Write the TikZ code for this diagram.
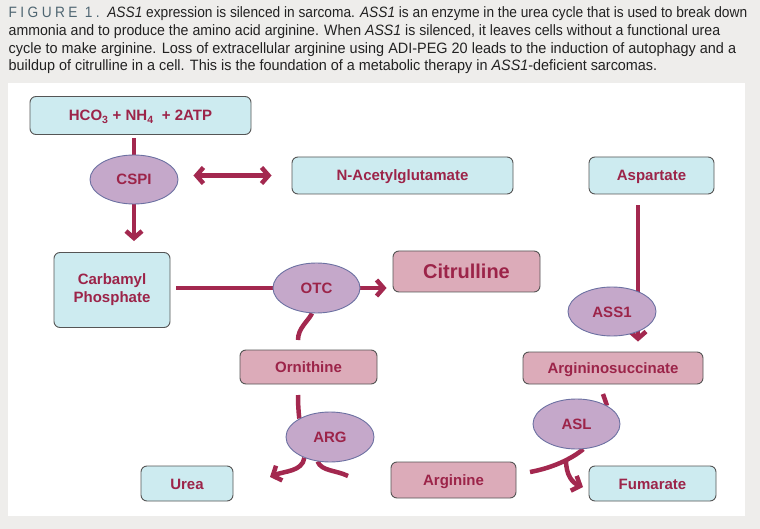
\documentclass[tikz,border=0pt]{standalone}
\usepackage{fontspec}
\usepackage{graphicx}
\setmainfont{Liberation Sans}
\newfontfamily\capfont{Liberation Sans}[FakeStretch=0.8]
\usetikzlibrary{shapes.geometric,arrows.meta}
\pgfdeclarelayer{back}
\pgfdeclarelayer{bg}
\pgfsetlayers{back,bg,main}
\definecolor{bgray}{HTML}{EEEDEB}
\definecolor{crim}{HTML}{A3284F}
\definecolor{txt}{HTML}{9C2449}
\definecolor{bluef}{HTML}{CDEBF0}
\definecolor{pinkf}{HTML}{DCABB9}
\definecolor{ellf}{HTML}{C5A8CA}
\definecolor{elld}{HTML}{6C71A2}
\definecolor{boxd}{HTML}{555555}
\definecolor{captxt}{HTML}{222222}
\definecolor{figc}{HTML}{4F6672}
\newlength\caplen
\newcommand\capline[2]{\settowidth\caplen{\capfont\fontsize{15}{17}\selectfont #2}\scalebox{\fpeval{#1/\caplen}}[1]{\capfont\fontsize{15}{17}\selectfont #2}}
\newcommand\figlab{{\color{figc}\addfontfeature{LetterSpace=20}FIGURE 1.}}
\begin{document}
\begin{tikzpicture}[x=1pt,y=-1pt,
  boxbase/.style={draw=boxd,line width=0.9pt,rounded corners=6pt,inner sep=0pt,text=txt,font=\bfseries\fontsize{15}{18}\selectfont,align=center},
  oneline/.style={text height=11pt,text depth=0pt},
  bluebox/.style={boxbase,oneline,fill=bluef},
  pinkbox/.style={boxbase,oneline,fill=pinkf},
  enz/.style={ellipse,draw=elld,line width=0.9pt,fill=ellf,inner sep=0pt,text=txt,font=\bfseries\fontsize{15}{18}\selectfont,oneline},
  conn/.style={draw=crim,line width=4.5pt},
  tipa/.tip={Straight Barb[length=7pt,width=16pt]},
  arr/.style={conn,-tipa},
  captext/.style={inner sep=0pt,anchor=base west,text=captxt}]
\begin{pgfonlayer}{back}
\fill[bgray] (0,0) rectangle (760,529);
\fill[white] (8.3,82.7) rectangle (745,516);
\end{pgfonlayer}
\useasboundingbox (0,0) rectangle (760,529);

% caption
\node[captext] (c1) at (8.5,17.3) {\capline{738.5}{\figlab\ \ \textit{ASS1} expression is silenced in sarcoma. \textit{ASS1} is an enzyme in the urea cycle that is used to break down}};
\node[captext] (c2) at (8.5,35.7) {\capline{711.5}{ammonia and to produce the amino acid arginine. When \textit{ASS1} is silenced, it leaves cells without a functional urea}};
\node[captext] (c3) at (8.5,53.3) {\capline{727.5}{cycle to make arginine. Loss of extracellular arginine using ADI-PEG 20 leads to the induction of autophagy and a}};
\node[captext] (c4) at (8.5,71) {\capline{648.5}{buildup of citrulline in a cell. This is the foundation of a metabolic therapy in \textit{ASS1}-deficient sarcomas.}};

% nodes
\node[bluebox,minimum width=221pt,minimum height=38pt] (hco) at (140.5,115.5) {HCO\textsubscript{3} + NH\textsubscript{4}\ \ + 2ATP};
\node[enz,minimum width=88pt,minimum height=49pt] (cspi) at (134,179.5) {CSPI};
\node[bluebox,minimum width=221pt,minimum height=37pt] (nag) at (402.5,175.5) {N-Acetylglutamate};
\node[bluebox,minimum width=125pt,minimum height=37pt] (asp) at (651.5,175.5) {Aspartate};
\node[boxbase,fill=bluef,minimum width=116pt,minimum height=75pt] (carb) at (112,290) {Carbamyl\\Phosphate};
\node[enz,minimum width=87pt,minimum height=50pt] (otc) at (316.5,288) {OTC};
\node[pinkbox,minimum width=147pt,minimum height=41pt,text height=14.5pt,font=\bfseries\fontsize{20}{24}\selectfont] (cit) at (466.5,271.5) {Citrulline};
\node[pinkbox,minimum width=137pt,minimum height=34pt] (orn) at (308.5,367) {Ornithine};
\node[enz,minimum width=88pt,minimum height=50pt] (arg) at (330,437) {ARG};
\node[bluebox,minimum width=92pt,minimum height=35pt] (urea) at (187,483.5) {Urea};
\node[pinkbox,minimum width=125pt,minimum height=36pt] (argn) at (453.5,480) {Arginine};
\node[bluebox,minimum width=127pt,minimum height=35pt] (fum) at (652.5,483.5) {Fumarate};
\node[pinkbox,minimum width=180pt,minimum height=32pt] (asuc) at (613,368) {Argininosuccinate};
\node[enz,minimum width=88pt,minimum height=49pt] (ass) at (612,311.5) {ASS1};
\node[enz,minimum width=87pt,minimum height=50pt] (asl) at (576.5,424) {ASL};

% free ends
\coordinate (o1) at (298,340);
\coordinate (o2) at (298,395);
\coordinate (ut) at (270,477);
\coordinate (ain) at (348,476);
\coordinate (s1) at (603,394);
\coordinate (r1) at (530,472);
\coordinate (b1) at (566,460);
\coordinate (ft) at (583,487);

\begin{pgfonlayer}{bg}
\draw[conn,shorten <=3.5pt] (cspi.north |- hco.south) -- (cspi.north);
\draw[arr,shorten >=11pt] (cspi.south) -- (cspi.south |- carb.north);
\draw[conn,tipa-tipa,shorten <=15pt,shorten >=20pt] (cspi.east |- nag.west) -- (nag.west);
\draw[conn,shorten <=6pt] (carb.east |- otc.west) -- (otc.west);
\draw[arr,shorten >=6pt] (otc.east) -- (otc.east -| cit.west);
\draw[conn] (o1) .. controls +(0,-12) and +(-4,8) .. (otc.-100);
\draw[conn] (o2) .. controls +(0,8) and +(-1,-8) .. (arg.149);
\draw[arr] (arg.-141) .. controls +(-2,14) and +(14,-6) .. (ut);
\draw[conn] (ain) .. controls +(-12,-6) and +(4,10) .. (arg.-117);
\draw[arr,shorten <=11pt,shorten >=10pt] ([xshift=-13.5pt]asp.south) -- ([xshift=-13.5pt]asp.south |- asuc.north);
\draw[conn] (s1) -- (asl.31);
\draw[conn] (r1) .. controls +(22,-4) and +(-12,10) .. (asl.-75);
\draw[arr] (b1) .. controls +(0,16) and +(-10,-4) .. (ft);
\end{pgfonlayer}
\end{tikzpicture}
\end{document}
